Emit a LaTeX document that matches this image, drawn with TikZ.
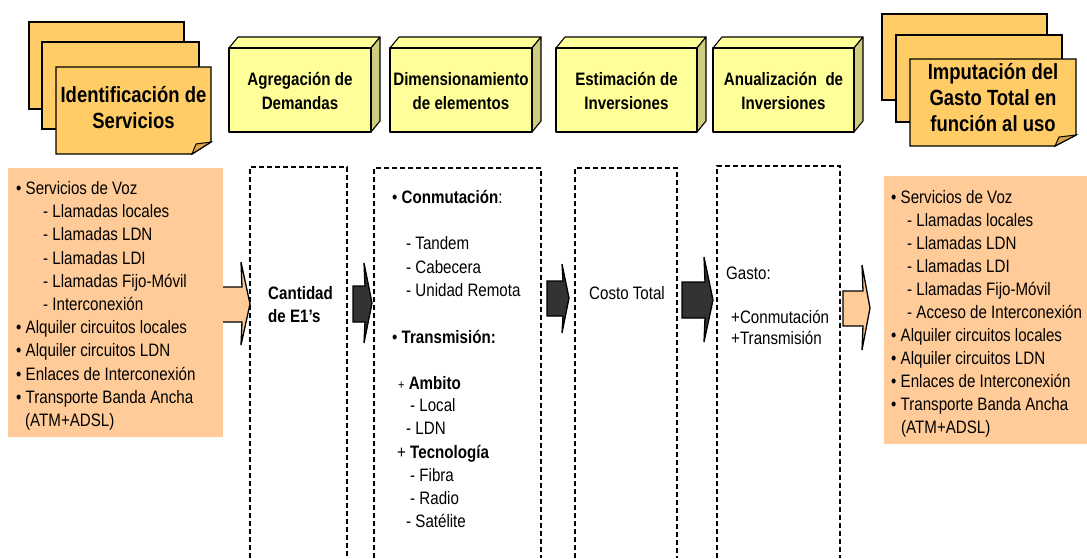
\documentclass[tikz,border=0pt]{standalone}
\usepackage{fontspec}
\setmainfont{Liberation Sans}[FakeStretch=0.84]
\definecolor{sheetfill}{HTML}{FFCC66}
\definecolor{foldfill}{HTML}{D9A54A}
\definecolor{boxfront}{HTML}{FFFF99}
\definecolor{boxside}{HTML}{CFCC80}
\definecolor{peach}{HTML}{FFCC99}
\definecolor{darkarrow}{HTML}{333333}
\begin{document}
\begin{tikzpicture}[x=1pt,y=-1pt,
  sheet/.style={draw=black, line width=1.4pt, fill=sheetfill, line join=miter},
  fold/.style={draw=black, line width=1pt, fill=foldfill},
  cubeface/.style={draw=black, line width=1.1pt, fill=boxfront, line join=round},
  cubeside/.style={draw=black, line width=1.1pt, fill=boxside, line join=round},
  cubetext/.style={font=\fontsize{18}{24}\selectfont\bfseries, align=center, inner sep=0pt},
  sheettext/.style={font=\fontsize{22}{26}\selectfont\bfseries, align=center, inner sep=0pt},
  listbox/.style={fill=peach, draw=none},
  listtxt/.style={font=\fontsize{18}{22}\selectfont, anchor=base west, inner sep=0pt},
  colbox/.style={draw=black, line width=1.6pt, dash pattern=on 5pt off 3pt},
  peacharrow/.style={fill=peach, draw=black, line width=1.3pt, line join=miter},
  darkblock/.style={fill=darkarrow, draw=black, line width=1.3pt, line join=miter},
]
\useasboundingbox (0,0) rectangle (1087,558);

% ---- stacked sheets, left
\draw[sheet] (29,22) rectangle (184,109);
\draw[sheet] (42,42) rectangle (199,129);
\draw[sheet] (56,67) -- (211,67) -- (211,142) -- (192,154) -- (56,154) -- cycle;
\draw[fold] (192,154) -- (196,144) -- (211,142) -- cycle;
\node[sheettext] (ident) at (133.5,108) {Identificación de\\Servicios};

% ---- stacked sheets, right
\draw[sheet] (882,14) rectangle (1047,100);
\draw[sheet] (896,35) rectangle (1062,122);
\draw[sheet] (910,59) -- (1076,59) -- (1076,135) -- (1055,146) -- (910,146) -- cycle;
\draw[fold] (1055,146) -- (1059,137) -- (1076,135) -- cycle;
\node[sheettext] (imput) at (993,98) {Imputación del\\Gasto Total en\\función al uso};

% ---- 3D step boxes
\foreach \xa/\xb/\nm/\txt in {229/371/agreg/{Agregación de\\Demandas},
                              390/532/dimen/{Dimensionamiento\\de elementos},
                              556/697/estim/{Estimación de\\Inversiones},
                              713/854/anual/{Anualización\ \ de\\Inversiones}}{
  \draw[cubeface] (\xa,48) -- (\xa+9,37) -- (\xb+9,37) -- (\xb,48) -- cycle;
  \draw[cubeside] (\xb,48) -- (\xb+9,37) -- (\xb+9,121) -- (\xb,132) -- cycle;
  \draw[cubeface] (\xa,48) rectangle (\xb,132);
  \node[cubetext] (\nm) at ({(\xa+\xb)/2},91) {\txt};
}

% ---- service list, left
\fill[listbox] (8,168) rectangle (223,437);
\foreach \i/\xx/\txt in {1/16/{• Servicios de Voz},
                         2/43/{- Llamadas locales},
                         3/43/{- Llamadas LDN},
                         4/43/{- Llamadas LDI},
                         5/43/{- Llamadas Fijo-Móvil},
                         6/43/{- Interconexión},
                         7/16/{• Alquiler circuitos locales},
                         8/16/{• Alquiler circuitos LDN},
                         9/16/{• Enlaces de Interconexión},
                         10/16/{• Transporte Banda Ancha},
                         11/25/{(ATM+ADSL)}}{
  \node[listtxt] (sl\i) at (\xx,{194.5+23.2*(\i-1)}) {\txt};
}

% ---- service list, right
\fill[listbox] (884,176) rectangle (1087,444);
\foreach \i/\xx/\txt in {1/891/{• Servicios de Voz},
                         2/907/{- Llamadas locales},
                         3/907/{- Llamadas LDN},
                         4/907/{- Llamadas LDI},
                         5/907/{- Llamadas Fijo-Móvil},
                         6/907/{- Acceso de Interconexión},
                         7/891/{• Alquiler circuitos locales},
                         8/891/{• Alquiler circuitos LDN},
                         9/891/{• Enlaces de Interconexión},
                         10/891/{• Transporte Banda Ancha},
                         11/901/{(ATM+ADSL)}}{
  \node[listtxt] (sr\i) at (\xx,{203.5+23*(\i-1)}) {\txt};
}

% ---- dashed columns (open at the bottom)
\draw[colbox] (250,558) |- (347,167) -- (347,558);
\draw[colbox] (374,558) |- (541,168) -- (541,558);
\draw[colbox] (575,558) |- (677,168) -- (677,558);
\draw[colbox] (717,558) |- (840,166) -- (840,558);

% ---- column contents
\node[listtxt, font=\fontsize{18}{22}\selectfont\bfseries] (cant1) at (268,299.5) {Cantidad};
\node[listtxt, font=\fontsize{18}{22}\selectfont\bfseries] (cant2) at (268,322.5) {de E1’s};

\node[listtxt] (conm) at (392,203.5) {• \textbf{Conmutación}:};
\node[listtxt] (tand) at (406,249.5) {- Tandem};
\node[listtxt] (cabe) at (406,273.5) {- Cabecera};
\node[listtxt] (unid) at (406,296.5) {- Unidad Remota};
\node[listtxt] (trans) at (392,343.5) {• \textbf{Transmisión:}};
\node[listtxt] (ambi) at (398,389.5) {{\fontsize{13}{16}\selectfont +} \textbf{Ambito}};
\node[listtxt] (loca) at (410,411.5) {- Local};
\node[listtxt] (ldn) at (406,434.5) {- LDN};
\node[listtxt] (tecn) at (397,458.5) {+ \textbf{Tecnología}};
\node[listtxt] (fibr) at (410,481.5) {- Fibra};
\node[listtxt] (radi) at (410,504.5) {- Radio};
\node[listtxt] (sate) at (406,527.5) {- Satélite};

\node[listtxt] (costo) at (589,299.5) {Costo Total};

\node[listtxt] (gasto) at (726,279.5) {Gasto:};
\node[listtxt] (gconm) at (731,323.5) {+Conmutación};
\node[listtxt] (gtran) at (731,344.5) {+Transmisión};

% ---- block arrows between stages
\fill[peach] (223,287) -- (242,287) -- (241,262) -- (250,304) -- (241,345) -- (242,322) -- (223,322) -- cycle;
\draw[line width=1.3pt, line join=miter] (223,287) -- (242,287) -- (241,262) -- (250,304) -- (241,345) -- (242,322) -- (223,322);
\draw[darkblock] (353,286) -- (365,286) -- (364,263) -- (372,303) -- (364,343) -- (365,322) -- (353,322) -- cycle;
\draw[darkblock] (547,281) -- (563,281) -- (562,264) -- (569,298) -- (562,333) -- (563,316) -- (547,316) -- cycle;
\draw[darkblock] (682,282) -- (705,282) -- (704,257) -- (713,300) -- (704,342) -- (705,318) -- (682,318) -- cycle;
\draw[peacharrow] (843,291) -- (863,291) -- (862,265) -- (870,308) -- (862,350) -- (863,326) -- (843,326) -- cycle;
\end{tikzpicture}
\end{document}
